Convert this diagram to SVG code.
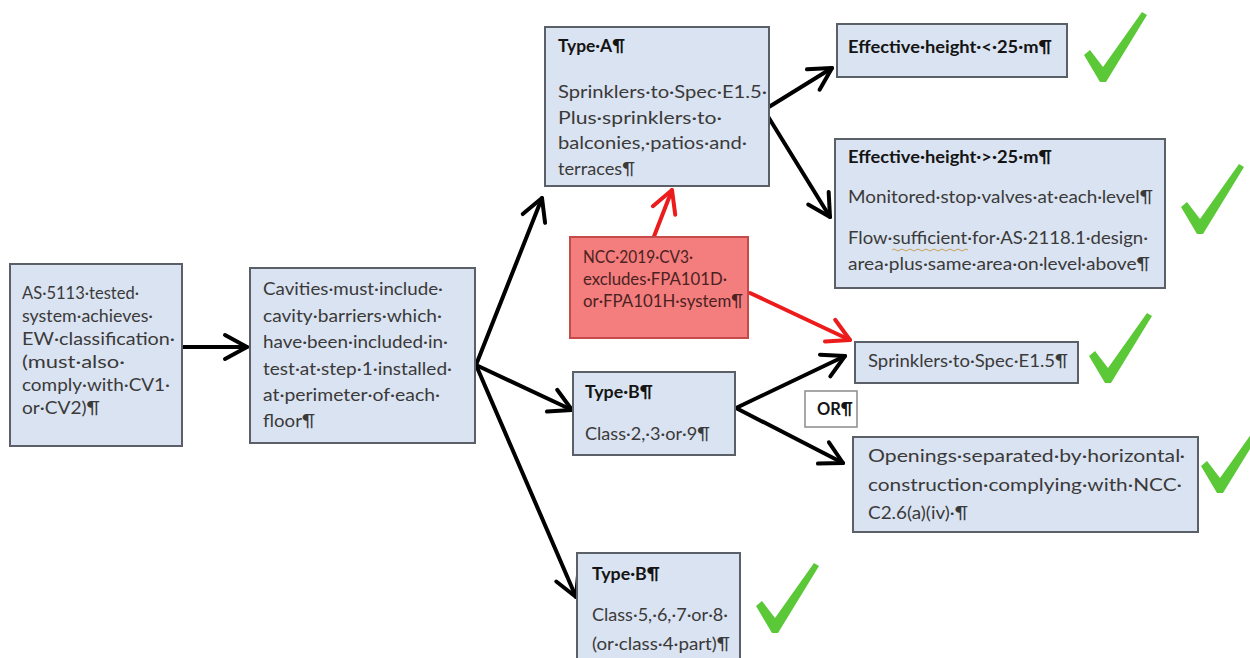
<svg xmlns="http://www.w3.org/2000/svg" width="1250" height="658" viewBox="0 0 1250 658">
<style>
.box{fill:#dae3f1;stroke:#5b6068;stroke-width:2}
.red{fill:#f47d7d;stroke:#c54b4b;stroke-width:2}
.orb{fill:#fff;stroke:#8a8a8a;stroke-width:1.5}
.t{font-family:Lato,"Open Sans","DejaVu Sans",sans-serif;font-size:16.5px;fill:#3a3a3a}
.b{font-weight:bold;fill:#141414}
.rt{fill:#4a2222}
.c{stroke:#000;stroke-width:4;fill:none;stroke-linecap:round;marker-end:url(#ah)}
.cr{stroke:#ec1c1c;stroke-width:4;fill:none;stroke-linecap:round;marker-end:url(#ahr)}
.ck{fill:#5bc837}
</style>
<defs>
<marker id="ah" markerUnits="userSpaceOnUse" viewBox="-26 -16 30 32" refX="0" refY="0" markerWidth="30" markerHeight="32" orient="auto"><path d="M-22,-12 L0,0 L-22,12" fill="none" stroke="#000" stroke-width="4" stroke-linecap="round" stroke-linejoin="round"/></marker>
<marker id="ahr" markerUnits="userSpaceOnUse" viewBox="-26 -16 30 32" refX="0" refY="0" markerWidth="30" markerHeight="32" orient="auto"><path d="M-22,-12 L0,0 L-22,12" fill="none" stroke="#ec1c1c" stroke-width="4" stroke-linecap="round" stroke-linejoin="round"/></marker>
<path id="tick" d="M1,43 L7,38 L20,55 L59,0 L64,3 L23,70 L17,70 Z"/>
</defs>
<g id="connectors">
<line class="c" x1="183" y1="347" x2="247" y2="347"/>
<line class="c" x1="476" y1="365" x2="542" y2="198"/>
<line class="c" x1="476" y1="365" x2="572" y2="410"/>
<line class="c" x1="476" y1="365" x2="576" y2="597"/>
<line class="c" x1="764" y1="110" x2="832" y2="68"/>
<line class="c" x1="764" y1="110" x2="830" y2="217"/>
<line class="c" x1="736" y1="408" x2="845" y2="356"/>
<line class="c" x1="736" y1="408" x2="843" y2="463"/>
<line class="cr" x1="653" y1="239" x2="672" y2="190"/>
<line class="cr" x1="750" y1="293" x2="850" y2="340"/>
</g>
<g id="n1">
<rect class="box" x="10" y="264" width="172" height="182"/>
<text class="t" x="22" y="299" textLength="117" lengthAdjust="spacingAndGlyphs">AS·5113·tested·</text>
<text class="t" x="22" y="322" textLength="131" lengthAdjust="spacingAndGlyphs">system·achieves·</text>
<text class="t" x="22" y="345" textLength="153" lengthAdjust="spacingAndGlyphs">EW·classification·</text>
<text class="t" x="22" y="368" textLength="103" lengthAdjust="spacingAndGlyphs">(must·also·</text>
<text class="t" x="22" y="391" textLength="148" lengthAdjust="spacingAndGlyphs">comply·with·CV1·</text>
<text class="t" x="22" y="414" textLength="78" lengthAdjust="spacingAndGlyphs">or·CV2)¶</text>
</g>
<g id="n2">
<rect class="box" x="250" y="268" width="225" height="175"/>
<text class="t" x="263" y="295" textLength="180" lengthAdjust="spacingAndGlyphs">Cavities·must·include·</text>
<text class="t" x="263" y="321.5" textLength="179" lengthAdjust="spacingAndGlyphs">cavity·barriers·which·</text>
<text class="t" x="263" y="348" textLength="185" lengthAdjust="spacingAndGlyphs">have·been·included·in·</text>
<text class="t" x="263" y="374.5" textLength="189" lengthAdjust="spacingAndGlyphs">test·at·step·1·installed·</text>
<text class="t" x="263" y="401" textLength="177" lengthAdjust="spacingAndGlyphs">at·perimeter·of·each·</text>
<text class="t" x="263" y="427" textLength="52" lengthAdjust="spacingAndGlyphs">floor¶</text>
</g>
<g id="typeA">
<rect class="box" x="545" y="27" width="224" height="159"/>
<text class="t b" x="558" y="52" textLength="67" lengthAdjust="spacingAndGlyphs">Type·A¶</text>
<text class="t" x="558" y="98" textLength="209" lengthAdjust="spacingAndGlyphs">Sprinklers·to·Spec·E1.5·</text>
<text class="t" x="558" y="124" textLength="164" lengthAdjust="spacingAndGlyphs">Plus·sprinklers·to·</text>
<text class="t" x="558" y="149" textLength="189" lengthAdjust="spacingAndGlyphs">balconies,·patios·and·</text>
<text class="t" x="558" y="175" textLength="77" lengthAdjust="spacingAndGlyphs">terraces¶</text>
</g>
<g id="effLow">
<rect class="box" x="837" y="24" width="230" height="53"/>
<text class="t b" x="848" y="53" textLength="204" lengthAdjust="spacingAndGlyphs">Effective·height·&lt;·25·m¶</text>
</g>
<g id="effHigh">
<rect class="box" x="835" y="139" width="330" height="149"/>
<text class="t b" x="848" y="163" textLength="204" lengthAdjust="spacingAndGlyphs">Effective·height·&gt;·25·m¶</text>
<text class="t" x="848" y="203" textLength="305" lengthAdjust="spacingAndGlyphs">Monitored·stop·valves·at·each·level¶</text>
<text class="t" x="848" y="244" textLength="300" lengthAdjust="spacingAndGlyphs">Flow·sufficient·for·AS·2118.1·design·</text>
<path d="M892,250 q2,-2 4,0 t4,0 t4,0 t4,0 t4,0 t4,0 t4,0 t4,0 t4,0 t4,0 t4,0 t4,0 t4,0 t4,0 t4,0 t4,0 t4,0 t4,0 t4,0" fill="none" stroke="#c9a25a" stroke-width="1"/>
<text class="t" x="848" y="270" textLength="302" lengthAdjust="spacingAndGlyphs">area·plus·same·area·on·level·above¶</text>
</g>
<g id="ncc">
<rect class="red" x="570" y="237" width="178" height="101"/>
<text class="t rt" x="583" y="263" textLength="110" lengthAdjust="spacingAndGlyphs">NCC·2019·CV3·</text>
<text class="t rt" x="583" y="285" textLength="144" lengthAdjust="spacingAndGlyphs">excludes·FPA101D·</text>
<text class="t rt" x="583" y="307" textLength="160" lengthAdjust="spacingAndGlyphs">or·FPA101H·system¶</text>
</g>
<g id="typeB1">
<rect class="box" x="573" y="372" width="162" height="83"/>
<text class="t b" x="585" y="398" textLength="68" lengthAdjust="spacingAndGlyphs">Type·B¶</text>
<text class="t" x="585" y="440" textLength="125" lengthAdjust="spacingAndGlyphs">Class·2,·3·or·9¶</text>
</g>
<g id="sprinklers">
<rect class="box" x="855" y="342" width="223" height="41"/>
<text class="t" x="868" y="367" textLength="200" lengthAdjust="spacingAndGlyphs">Sprinklers·to·Spec·E1.5¶</text>
</g>
<g id="or">
<rect class="orb" x="805" y="391" width="52" height="36"/>
<text class="t b" x="817" y="415" textLength="36" lengthAdjust="spacingAndGlyphs">OR¶</text>
</g>
<g id="openings">
<rect class="box" x="853" y="437" width="345" height="95"/>
<text class="t" x="868" y="462" textLength="317" lengthAdjust="spacingAndGlyphs">Openings·separated·by·horizontal·</text>
<text class="t" x="868" y="491" textLength="314" lengthAdjust="spacingAndGlyphs">construction·complying·with·NCC·</text>
<text class="t" x="868" y="519" textLength="100" lengthAdjust="spacingAndGlyphs">C2.6(a)(iv)·¶</text>
</g>
<g id="typeB2">
<rect class="box" x="577" y="553" width="163" height="115"/>
<text class="t b" x="592" y="580" textLength="68" lengthAdjust="spacingAndGlyphs">Type·B¶</text>
<text class="t" x="592" y="621" textLength="136" lengthAdjust="spacingAndGlyphs">Class·5,·6,·7·or·8·</text>
<text class="t" x="592" y="650" textLength="138" lengthAdjust="spacingAndGlyphs">(or·class·4·part)¶</text>
</g>
<g id="checks" class="ck">
<use href="#tick" transform="translate(1083,12)"/>
<use href="#tick" transform="translate(1180,164)"/>
<use href="#tick" transform="translate(1088,313)"/>
<use href="#tick" transform="translate(1200,423)"/>
<use href="#tick" transform="translate(755,563)"/>
</g>
</svg>
